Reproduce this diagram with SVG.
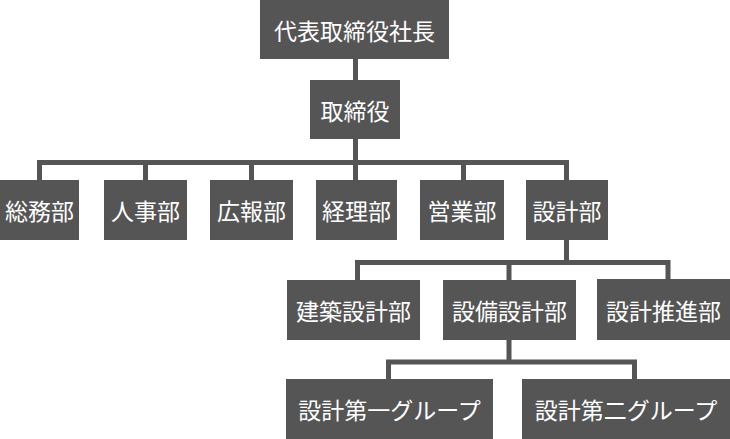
<svg xmlns="http://www.w3.org/2000/svg" width="730" height="439" viewBox="0 0 730 439">
<style>
.box{fill:#555555}
.lbl{fill:#ffffff;font-family:"Noto Sans CJK JP","Noto Sans CJK SC",sans-serif;font-size:23px;text-anchor:middle;dominant-baseline:central}
.con{fill:none;stroke:#555555;stroke-width:5}
</style>
<rect width="730" height="439" fill="#ffffff"/>
<g id="connectors">
<path class="con" d="M355.5 59V80M355.5 139V180M39.5 162.5H566.5M39.5 160V180M145.5 162.5V180M251.5 162.5V180M463.5 162.5V180M566.5 160V180"/>
<path class="con" d="M566.5 240V262.5M357.5 262.5H668M357.5 260V280M509 262.5V280M668 260V279"/>
<path class="con" d="M509 340V362M388.5 362H634.5M388.5 359.5V379M634.5 359.5V379"/>
</g>
<g id="n-president"><rect class="box" x="260" y="0" width="189" height="59"/><text class="lbl" x="354.5" y="30">代表取締役社長</text></g>
<g id="n-board"><rect class="box" x="310" y="80" width="90" height="59"/><text class="lbl" x="355" y="110">取締役</text></g>
<g id="n-soumu"><rect class="box" x="0" y="180" width="79" height="60"/><text class="lbl" x="39.5" y="210">総務部</text></g>
<g id="n-jinji"><rect class="box" x="104" y="180" width="83" height="60"/><text class="lbl" x="145.5" y="210">人事部</text></g>
<g id="n-kouhou"><rect class="box" x="210" y="180" width="83" height="60"/><text class="lbl" x="251.5" y="210">広報部</text></g>
<g id="n-keiri"><rect class="box" x="316" y="180" width="81" height="60"/><text class="lbl" x="356.5" y="210">経理部</text></g>
<g id="n-eigyou"><rect class="box" x="420" y="180" width="84" height="60"/><text class="lbl" x="462" y="210">営業部</text></g>
<g id="n-sekkei"><rect class="box" x="526" y="180" width="82" height="60"/><text class="lbl" x="567" y="210">設計部</text></g>
<g id="n-kenchiku"><rect class="box" x="287" y="280" width="133" height="60"/><text class="lbl" x="353.5" y="310">建築設計部</text></g>
<g id="n-setsubi"><rect class="box" x="443" y="280" width="133" height="60"/><text class="lbl" x="509.5" y="310">設備設計部</text></g>
<g id="n-suishin"><rect class="box" x="597" y="279" width="133" height="61"/><text class="lbl" x="663.5" y="310">設計推進部</text></g>
<g id="n-group1"><rect class="box" x="286" y="379" width="207" height="60"/><text class="lbl" x="389.5" y="409">設計第一グループ</text></g>
<g id="n-group2"><rect class="box" x="522" y="379" width="208" height="60"/><text class="lbl" x="626" y="409">設計第二グループ</text></g>
</svg>
